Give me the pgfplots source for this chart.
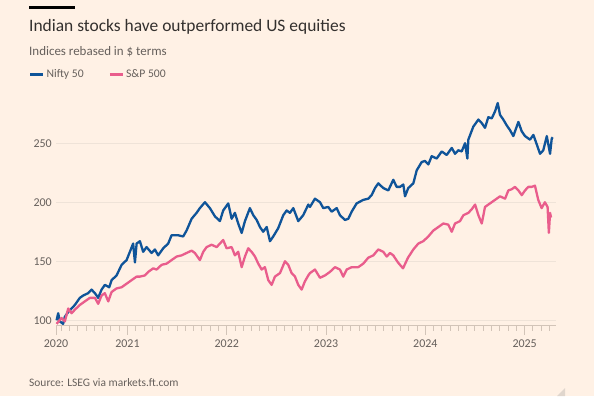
\documentclass[border=0pt]{standalone}
\usepackage{pgfplots}
\pgfplotsset{compat=1.18}
\usepackage{fontspec}
\setmainfont{Carlito}
\definecolor{bg}{HTML}{FFF1E5}
\definecolor{titlec}{HTML}{33302E}
\definecolor{subc}{HTML}{66605C}
\definecolor{nifty}{HTML}{0F5499}
\definecolor{spx}{HTML}{E95D8C}
\definecolor{gridc}{HTML}{EFE3D8}
\definecolor{tickc}{HTML}{D2C4B8}
\definecolor{gripc}{HTML}{E0D6CD}
\begin{document}
\begin{tikzpicture}[x=1bp,y=1bp]
\useasboundingbox (0,0) rectangle (594,396);
\fill[bg] (0,0) rectangle (594,396);
\fill[black] (29,386.5) rectangle (75,389.8);
\node[anchor=base west, inner sep=0pt, font=\fontsize{17.5}{20}\selectfont, text=titlec] at (29,364.3) {Indian stocks have outperformed US equities};
\node[anchor=base west, inner sep=0pt, font=\fontsize{13}{15}\selectfont, text=subc] at (29,341) {Indices rebased in \$ terms};
\node[anchor=base west, inner sep=0pt, font=\fontsize{11.5}{14}\selectfont, text=subc] at (29,10) {Source: LSEG via markets.ft.com};
\fill[gripc] (557,0) -- (565,0) -- (565,8) -- cycle;
\begin{axis}[
  at={(56bp,70.5bp)}, anchor=south west,
  width=500bp, height=230.5bp, scale only axis,
  xmin=2020.28, xmax=2025.316, ymin=95.6, ymax=290.8,
  axis line style={draw=none},
  ytick={100,150,200,250},
  ymajorgrids, grid style={draw=gridc, line width=0.8bp},
  xtick={2020.28,2021,2022,2023,2024,2025},
  xticklabels={2020,2021,2022,2023,2024,2025},
  xtick pos=bottom,
  ytick pos=left,
  xtick style={draw=tickc, line width=1bp},
  ytick style={draw=none},
  xtick align=outside,
  major tick length=9bp,
  /pgf/number format/assume math mode=true,
  tick label style={font=\fontsize{12}{14}\selectfont, text=subc},
  xticklabel style={yshift=-2bp},
  yticklabel style={anchor=east, inner sep=0pt, xshift=-4bp},
  legend style={draw=none, fill=none, inner sep=0pt, at={(-0.054,1.0898)}, anchor=west,
    legend columns=2, font=\fontsize{11.7}{14}\selectfont, text=subc,
    /tikz/every odd column/.append style={column sep=0bp},
    /tikz/every even column/.append style={column sep=23bp}},
  legend cell align=left,
  legend image code/.code={\draw[#1, line width=2.4bp] (0bp,0bp) -- (13bp,0bp);},
  clip=false,
]
\draw[tickc, line width=1bp] (axis cs:2020.28,95.6) -- (axis cs:2025.316,95.6);
\pgfplotsinvokeforeach{2020.28,2021,2022,2023,2024,2025}{
  \draw[tickc, line width=1bp] (axis cs:#1,95.6) -- ++(0bp,-9bp);
}
\pgfplotsinvokeforeach{2020.3333,2020.4167,2020.5,2020.5833,2020.6667,2020.75,2020.8333,2020.9167,
  2021.0833,2021.1667,2021.25,2021.3333,2021.4167,2021.5,2021.5833,2021.6667,2021.75,2021.8333,2021.9167,
  2022.0833,2022.1667,2022.25,2022.3333,2022.4167,2022.5,2022.5833,2022.6667,2022.75,2022.8333,2022.9167,
  2023.0833,2023.1667,2023.25,2023.3333,2023.4167,2023.5,2023.5833,2023.6667,2023.75,2023.8333,2023.9167,
  2024.0833,2024.1667,2024.25,2024.3333,2024.4167,2024.5,2024.5833,2024.6667,2024.75,2024.8333,2024.9167,
  2025.0833,2025.1667,2025.25}{
  \draw[tickc, line width=1bp] (axis cs:#1,95.6) -- ++(0bp,-5.5bp);
}
\addplot[nifty, line width=2.3bp, line join=round] coordinates {
(2020.286,100) (2020.302,106) (2020.319,99) (2020.352,97) (2020.369,103) (2020.403,107)
(2020.437,110) (2020.470,113) (2020.520,119) (2020.554,121) (2020.604,123) (2020.638,126)
(2020.672,123) (2020.705,119) (2020.739,126) (2020.772,130) (2020.816,128) (2020.840,134)
(2020.890,138) (2020.941,147) (2020.991,151) (2021.024,158) (2021.057,165) (2021.075,149)
(2021.092,165) (2021.125,167) (2021.158,158) (2021.192,162) (2021.243,157) (2021.276,160)
(2021.309,155) (2021.360,161) (2021.410,165) (2021.444,172) (2021.511,172) (2021.561,171)
(2021.595,176) (2021.646,186) (2021.696,191) (2021.729,195) (2021.780,200) (2021.830,195)
(2021.881,188) (2021.931,184) (2021.964,193) (2022.015,199) (2022.049,186) (2022.082,191)
(2022.115,182) (2022.150,174) (2022.183,184) (2022.233,195) (2022.267,189) (2022.301,185)
(2022.334,179) (2022.367,175) (2022.402,179) (2022.435,167) (2022.468,171) (2022.518,178)
(2022.569,189) (2022.603,193) (2022.636,191) (2022.670,195) (2022.720,184) (2022.770,189)
(2022.821,198) (2022.838,196) (2022.888,203) (2022.939,200) (2022.972,195) (2023.022,196)
(2023.056,192) (2023.107,195) (2023.140,189) (2023.190,185) (2023.224,186) (2023.258,192)
(2023.308,199) (2023.375,202) (2023.425,203) (2023.459,206) (2023.493,212) (2023.526,216)
(2023.576,212) (2023.627,210) (2023.677,219) (2023.711,213) (2023.745,213) (2023.778,215)
(2023.795,205) (2023.828,212) (2023.879,216) (2023.913,227) (2023.963,234) (2023.996,235)
(2024.030,232) (2024.064,239) (2024.114,237) (2024.165,243) (2024.215,240) (2024.266,246)
(2024.299,241) (2024.332,244) (2024.366,243) (2024.400,250) (2024.423,237) (2024.433,253)
(2024.483,264) (2024.534,270) (2024.568,267) (2024.601,263) (2024.634,272) (2024.669,271)
(2024.702,277) (2024.729,284) (2024.752,274) (2024.785,270) (2024.820,265) (2024.853,261)
(2024.886,256) (2024.937,268) (2024.971,260) (2025.004,256) (2025.054,253) (2025.088,257)
(2025.122,249) (2025.155,241) (2025.188,244) (2025.223,256) (2025.256,241) (2025.273,254)
(2025.283,255)
};
\addlegendentry{Nifty 50}
\addplot[spx, line width=2.3bp, line join=round] coordinates {
(2020.286,97) (2020.336,102) (2020.369,99) (2020.403,110) (2020.437,106) (2020.470,109)
(2020.520,113) (2020.570,116) (2020.621,119) (2020.672,119) (2020.705,114) (2020.739,121)
(2020.772,123) (2020.806,116) (2020.840,124) (2020.890,127) (2020.941,128) (2020.991,131)
(2021.041,134) (2021.092,137) (2021.125,137) (2021.175,138) (2021.209,141) (2021.259,144)
(2021.293,143) (2021.344,147) (2021.394,148) (2021.444,151) (2021.495,154) (2021.545,155)
(2021.595,157) (2021.646,159) (2021.679,157) (2021.729,151) (2021.763,158) (2021.797,162)
(2021.847,164) (2021.898,162) (2021.931,165) (2021.964,168) (2021.998,161) (2022.049,162)
(2022.082,155) (2022.115,158) (2022.150,145) (2022.183,154) (2022.216,161) (2022.250,158)
(2022.284,154) (2022.317,148) (2022.351,143) (2022.384,145) (2022.418,134) (2022.452,130)
(2022.485,137) (2022.536,140) (2022.586,150) (2022.619,147) (2022.653,140) (2022.687,137)
(2022.720,130) (2022.754,126) (2022.787,133) (2022.821,138) (2022.838,140) (2022.888,143)
(2022.939,136) (2022.989,138) (2023.039,141) (2023.090,145) (2023.140,143) (2023.173,137)
(2023.208,143) (2023.258,145) (2023.324,145) (2023.375,148) (2023.425,153) (2023.476,155)
(2023.526,160) (2023.576,158) (2023.611,154) (2023.644,157) (2023.677,155) (2023.724,149)
(2023.775,144) (2023.825,153) (2023.879,160) (2023.929,165) (2023.979,167) (2024.030,171)
(2024.080,176) (2024.131,179) (2024.181,182) (2024.231,181) (2024.266,175) (2024.299,182)
(2024.349,184) (2024.383,189) (2024.433,191) (2024.467,194) (2024.501,198) (2024.534,189)
(2024.568,182) (2024.601,196) (2024.651,199) (2024.702,202) (2024.752,205) (2024.803,203)
(2024.836,210) (2024.870,211) (2024.903,213) (2024.937,210) (2024.971,206) (2025.004,210)
(2025.037,213) (2025.071,213) (2025.104,214) (2025.137,202) (2025.171,195) (2025.204,200)
(2025.231,196) (2025.244,174) (2025.256,191) (2025.266,187)
};
\addlegendentry{S\&P 500}
\end{axis}
\end{tikzpicture}
\end{document}
